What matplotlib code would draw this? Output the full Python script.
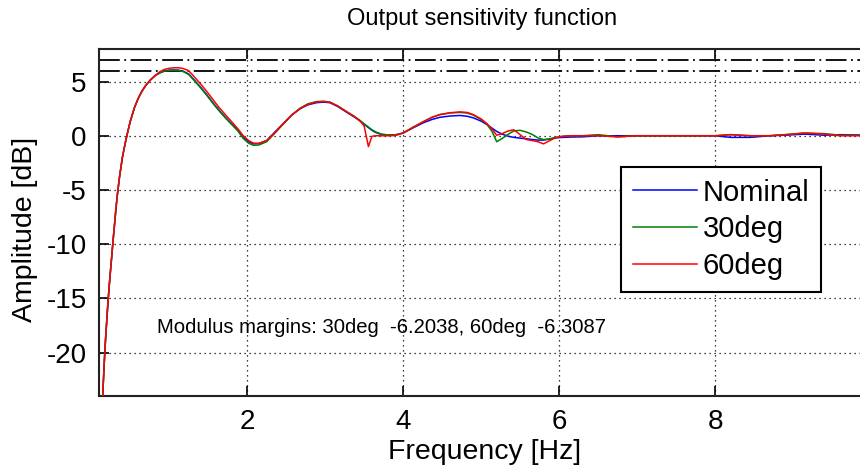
import matplotlib
matplotlib.use("Agg")
import matplotlib.pyplot as plt

plt.rcParams['font.family'] = ['Liberation Sans', 'DejaVu Sans']
plt.rcParams['axes.unicode_minus'] = False

# Frequency grid [Hz] shared by the three sensitivity curves
freq_hz = [0.14, 0.155, 0.167, 0.178, 0.188, 0.2, 0.209, 0.222, 0.235, 0.248,
           0.26, 0.273, 0.285, 0.299, 0.315, 0.333, 0.363, 0.40, 0.43, 0.457,
           0.50, 0.555, 0.60, 0.65, 0.70, 0.76, 0.82, 0.88, 0.94, 1.00,
           1.06, 1.12, 1.18, 1.25, 1.32, 1.40, 1.48, 1.56, 1.64, 1.72,
           1.80, 1.88, 1.95, 2.02, 2.08, 2.15, 2.25, 2.35, 2.46, 2.57,
           2.68, 2.78, 2.89, 2.98, 3.06, 3.16, 3.28, 3.38, 3.45, 3.50,
           3.555, 3.60, 3.65, 3.72, 3.80, 3.90, 4.00, 4.12, 4.26, 4.37,
           4.47, 4.60, 4.73, 4.82, 4.90, 5.00, 5.07, 5.14, 5.20, 5.27,
           5.35, 5.42, 5.50, 5.58, 5.66, 5.73, 5.80, 5.88, 5.95, 6.05,
           6.15, 6.30, 6.50, 6.75, 7.00, 7.50, 8.00, 8.20, 8.45, 8.70,
           8.90, 9.15, 9.40, 9.60, 10.0]

rise_db = [-25.5, -22.8, -21.0, -19.5, -18.3, -17.0, -16.0, -14.7, -13.5, -12.4,
           -11.4, -10.3, -9.3, -8.2, -6.9, -5.6, -3.8, -2.0, -0.9, 0.0,
           1.3, 2.6, 3.4, 4.1, 4.65, 5.15, 5.55]

nominal_db = rise_db + [
    5.8, 5.97, 6.05, 6.07, 6.05, 5.95, 5.7, 5.15, 4.5, 3.8, 3.05, 2.35, 1.7,
    1.1, 0.5, -0.15, -0.55, -0.75, -0.72, -0.45, 0.3, 1.1, 1.9,
    2.5, 2.85, 3.05, 3.1, 3.05, 2.7, 2.15, 1.7, 1.35, 1.05,
    0.75, 0.5, 0.3, 0.12, 0.08, 0.08, 0.25, 0.7, 1.2, 1.5,
    1.7, 1.82, 1.87, 1.8, 1.65, 1.35, 1.05, 0.7, 0.4, 0.15,
    -0.05, -0.15, -0.22, -0.28, -0.35, -0.4, -0.4, -0.3, -0.2, -0.15,
    -0.12, -0.1, 0.0, 0.0, 0.0, 0.0, 0.0, -0.15, -0.15, 0.0,
    0.05, 0.15, 0.05, 0.1, 0.05]

deg30_db = rise_db + [
    5.8, 5.96, 6.02, 6.03, 6.01, 5.92, 5.65, 5.1, 4.45, 3.75, 3.0, 2.3, 1.65,
    1.05, 0.45, -0.25, -0.7, -0.88, -0.85, -0.55, 0.2, 1.05, 1.9,
    2.55, 2.95, 3.15, 3.18, 3.1, 2.75, 2.2, 1.75, 1.4, 1.1,
    0.8, 0.55, 0.35, 0.15, 0.08, 0.08, 0.25, 0.75, 1.3, 1.7,
    1.95, 2.1, 2.15, 2.1, 1.9, 1.5, 1.1, 0.4, -0.55, -0.25,
    0.15, 0.45, 0.5, 0.35, 0.1, -0.2, -0.35, -0.3, -0.15, -0.05,
    0.0, 0.0, 0.1, -0.1, 0.0, 0.0, 0.0, 0.1, 0.0, 0.0,
    0.1, 0.25, 0.2, 0.05, 0.05]

deg60_db = rise_db + [
    5.9, 6.12, 6.22, 6.27, 6.27, 6.2, 6.0, 5.45, 4.8, 4.1, 3.35, 2.6, 1.95,
    1.3, 0.65, 0.0, -0.45, -0.68, -0.7, -0.45, 0.25, 1.1, 1.9,
    2.5, 2.9, 3.12, 3.15, 3.1, 2.75, 2.2, 1.75, 1.35, 0.9,
    -1.0, -0.05, 0.0, 0.0, 0.0, 0.02, 0.25, 0.75, 1.3, 1.7,
    1.95, 2.12, 2.2, 2.15, 1.95, 1.55, 1.15, 0.6, 0.05, 0.2,
    0.45, 0.55, 0.1, -0.35, -0.45, -0.55, -0.75, -0.45, -0.2, -0.05,
    0.0, 0.0, 0.0, -0.1, 0.0, 0.0, 0.0, 0.1, 0.0, 0.0,
    0.1, 0.25, 0.15, 0.0, 0.0]

series_names = ['Nominal', '30deg', '60deg']
series_colors = ['#0000ff', '#008000', '#ff0000']
template_db = [7.0, 6.0]
x_ticks = [2, 4, 6, 8]
y_ticks = [-20, -15, -10, -5, 0, 5]
margin_text = 'Modulus margins: 30deg  -6.2038, 60deg  -6.3087'

W, H = 860, 473
fig = plt.figure(figsize=(W / 100, H / 100), dpi=100)
ax = fig.add_axes([99 / W, 1 - 396 / H, (871 - 99) / W, 347 / H])
ax.set_xlim(0.1, 10)
ax.set_ylim(-24, 8)

for vals, name, col in zip([nominal_db, deg30_db, deg60_db], series_names, series_colors):
    ax.plot(freq_hz, vals, color=col, lw=1.1, label=name, zorder=3)

for lvl in template_db:
    ax.axhline(lvl, color='black', lw=1.3, linestyle=(0, (11.5, 2.5, 1, 2.5)), zorder=2)

ax.set_xticks(x_ticks)
ax.set_yticks(y_ticks)
ax.grid(True, color='black', linestyle=(0, (1, 3)), linewidth=0.9)
ax.tick_params(direction='in', length=7, width=1.2, top=True, right=True,
               labelsize=20, colors='black')
ax.tick_params(axis='x', pad=9)
ax.tick_params(axis='y', pad=9)
for sp in ax.spines.values():
    sp.set_linewidth(1.5)
    sp.set_color('#222222')

ax.set_xlabel('Frequency [Hz]', fontsize=20.5)
ax.xaxis.set_label_coords(0.5, -0.125)
ax.set_ylabel('Amplitude [dB]', fontsize=20.5)
ax.yaxis.set_label_coords(-0.079, 0.48)

ax.text(0.846, -17.65, margin_text, fontsize=14.6, va='center', ha='left')

fig.text(482 / W, 1 - 19 / H, 'Output sensitivity function', fontsize=17,
         ha='center', va='center')

leg = ax.legend(loc='upper right', bbox_to_anchor=(821 / W, 1 - 167 / H),
                bbox_transform=fig.transFigure, fontsize=21, frameon=True,
                fancybox=False, framealpha=1, edgecolor='black',
                handlelength=2.2, handletextpad=0.2, borderpad=0.4,
                labelspacing=0.3, borderaxespad=0)
leg.get_frame().set_linewidth(1.5)

fig.savefig('out.png', dpi=100)
